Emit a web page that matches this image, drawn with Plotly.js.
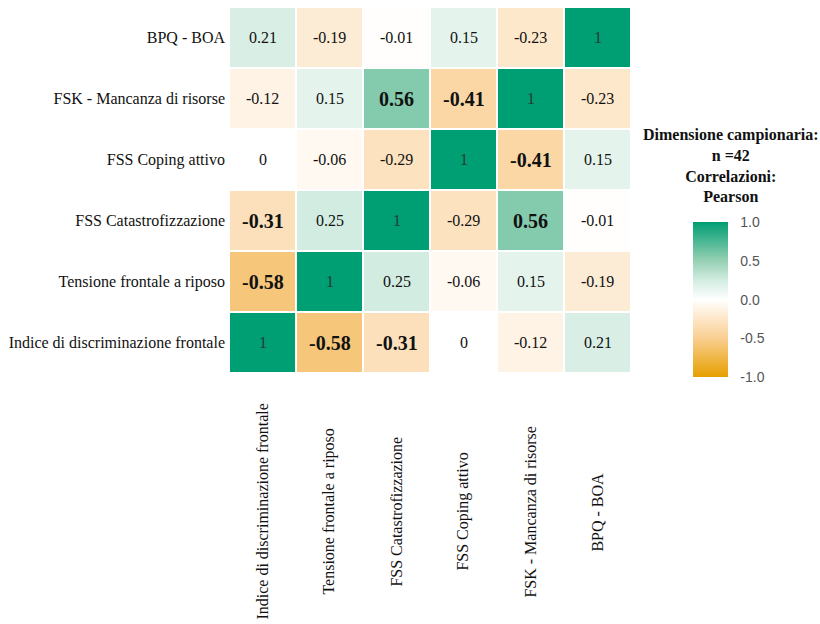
<!DOCTYPE html>
<html><head><meta charset="utf-8">
<script src="https://cdn.plot.ly/plotly-3.0.1.min.js"></script>
<style>body{margin:0;background:#fff}#chart{width:820px;height:624px}</style>
</head><body><div id="chart"></div>
<script>
const variables = ["Indice di discriminazione frontale","Tensione frontale a riposo","FSS Catastrofizzazione","FSS Coping attivo","FSK - Mancanza di risorse","BPQ - BOA"];
// rows in the same order as variables (bottom to top)
const rowIndice   = [1, -0.58, -0.31, 0, -0.12, 0.21];
const rowTensione = [-0.58, 1, 0.25, -0.06, 0.15, -0.19];
const rowFSSCat   = [-0.31, 0.25, 1, -0.29, 0.56, -0.01];
const rowCoping   = [0, -0.06, -0.29, 1, -0.41, 0.15];
const rowFSK      = [-0.12, 0.15, 0.56, -0.41, 1, -0.23];
const rowBPQ      = [0.21, -0.19, -0.01, 0.15, -0.23, 1];
const corr = [rowIndice,rowTensione,rowFSSCat,rowCoping,rowFSK,rowBPQ];
const colorbarTicks = [-1,-0.5,0,0.5,1];
const colorbarTickText = ["-1.0","-0.5","0.0","0.5","1.0"];
const legendTitle = "<b>Dimensione campionaria:</b><br><b>n =42</b><br><b>Correlazioni:</b><br><b>Pearson</b>";

const serif = "Liberation Serif, Times New Roman, serif";
const annotations = [];
corr.forEach((row,i)=>{
  row.forEach((v,j)=>{
    const diag = (i===j);
    const bold = !diag && Math.abs(v) >= 0.3;
    annotations.push({
      x: variables[j], y: variables[i], xref:'x', yref:'y',
      text: bold ? "<b>"+v+"</b>" : String(v),
      showarrow:false,
      font:{family:serif, size: diag ? 16 : (bold ? 20 : 16), color: diag ? '#2a3a33' : '#111'}
    });
  });
});
variables.forEach(name=>{
  annotations.push({
    x:name, xref:'x', y:-0.38, yref:'paper', text:name, textangle:-90,
    showarrow:false, xanchor:'center', yanchor:'middle',
    font:{family:serif, size:16, color:'#111'}
  });
});
annotations.push({
  x:1.249, y:0.568, xref:'paper', yref:'paper', text:legendTitle, showarrow:false,
  xanchor:'center', yanchor:'middle', align:'center',
  font:{family:serif, size:16, color:'#111'}
});

const trace = {
  type:'heatmap', x:variables, y:variables, z:corr,
  zmin:-1, zmax:1, xgap:2, ygap:2,
  colorscale:[[0,'#E69F00'],[0.25,'rgb(249,207,145)'],[0.375,'rgb(253,230,200)'],[0.5,'#FFFFFF'],
              [0.625,'rgb(210,236,225)'],[0.75,'rgb(150,208,180)'],[1,'#009E73']],
  hoverinfo:'skip',
  colorbar:{
    x:1.154, xanchor:'left', xref:'paper', y:0.2, yanchor:'middle',
    len:155, lenmode:'pixels', thickness:35, thicknessmode:'pixels',
    xpad:0, ypad:0, outlinewidth:0,
    tickvals:colorbarTicks, ticktext:colorbarTickText,
    ticks:'outside', ticklen:10, tickcolor:'#ffffff',
    tickfont:{family:'Liberation Sans, Arial, sans-serif', size:14, color:'#555'}
  }
};

const layout = {
  width:820, height:624,
  margin:{l:229, r:189, t:7, b:251},
  paper_bgcolor:'#fff', plot_bgcolor:'#fff',
  xaxis:{type:'category', showticklabels:false, showgrid:false, zeroline:false, ticks:''},
  yaxis:{type:'category', showgrid:false, zeroline:false, ticks:'', ticklabelstandoff:3,
         tickfont:{family:serif, size:16, color:'#111'}},
  annotations:annotations
};
Plotly.newPlot('chart',[trace],layout,{displayModeBar:false,staticPlot:true});
</script>
</body></html>
